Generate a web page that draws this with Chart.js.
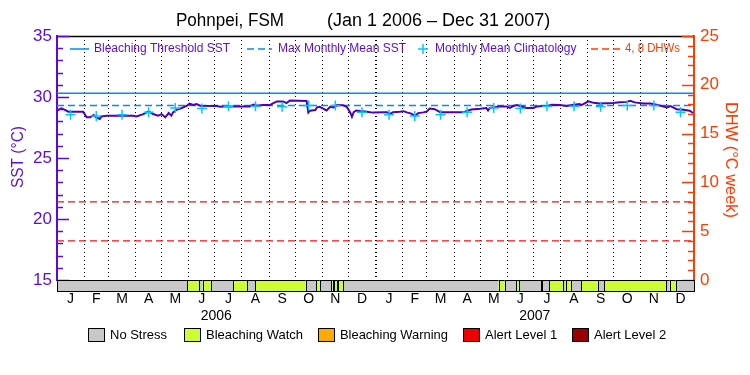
<!DOCTYPE html>
<html>
<head>
<meta charset="utf-8">
<script src="https://cdn.jsdelivr.net/npm/chart.js@4.4.0/dist/chart.umd.min.js"></script>
<style>
html, body { margin: 0; padding: 0; background: #fff; }
</style>
</head>
<body>
<canvas id="grafik" width="750" height="375"></canvas>
<script>
// days since Jan 1 2006
const monthLabels = ["J", "F", "M", "A", "M", "J", "J", "A", "S", "O", "N", "D"];
const monthStarts = [0, 31, 59, 90, 120, 151, 181, 212, 243, 273, 304, 334, 365,
    396, 424, 455, 485, 516, 546, 577, 608, 638, 669, 699, 730];
const yearLabels = ["2006", "2007"];

const sstTicks = [15, 20, 25, 30, 35];
const dhwTicks = [0, 5, 10, 15, 20, 25];

const threshold = 30.3;
const mmm = 29.3;
const dhwLevels = [4, 8];

const sstDays = [0, 5, 9, 13, 30, 34, 38, 42, 45, 49, 51, 57, 87, 91, 99, 105, 110, 116, 120, 124,
    128, 131, 133, 137, 143, 149, 152, 156, 160, 164, 183, 187, 191, 221, 225, 229, 236, 244, 248, 252,
    259, 263, 267, 286, 288, 290, 296, 298, 301, 305, 309, 313, 317, 321, 328, 332, 336, 338, 340, 343,
    347, 355, 362, 374, 378, 382, 385, 393, 397, 401, 406, 410, 414, 420, 424, 427, 433, 439, 466, 469,
    475, 485, 492, 494, 496, 500, 508, 515, 519, 523, 527, 531, 538, 546, 550, 557, 563, 567, 576, 584,
    592, 599, 601, 609, 615, 622, 637, 645, 653, 657, 662, 672, 680, 687, 693, 699, 703, 706, 710, 718,
    725, 729];
const sstValues = [28.88, 29.07, 28.95, 28.8, 28.8, 28.33, 28.33, 28.53, 28.33, 28.2, 28.41, 28.47, 28.47, 28.41, 28.6, 28.82, 28.6, 28.47, 28.6, 28.33,
    28.68, 28.47, 28.74, 28.95, 29.1, 29.29, 29.45, 29.34, 29.42, 29.29, 29.26, 29.2, 29.23, 29.23, 29.37, 29.29, 29.34, 29.34, 29.5, 29.64,
    29.64, 29.5, 29.72, 29.68, 28.72, 28.88, 28.93, 29.15, 29.2, 29.05, 28.9, 29.2, 29.15, 29.34, 29.32, 29.2, 28.74, 28.38, 28.76, 28.9,
    28.86, 28.8, 28.72, 28.76, 28.76, 28.62, 28.76, 28.8, 28.84, 28.74, 28.64, 28.45, 28.68, 28.74, 28.82, 29.05, 29.0, 28.76, 28.76, 28.84,
    28.98, 29.04, 29.1, 28.9, 29.1, 29.15, 29.23, 29.23, 29.1, 29.26, 29.34, 29.26, 29.1, 29.1, 29.23, 29.26, 29.29, 29.37, 29.34, 29.26,
    29.37, 29.42, 29.34, 29.64, 29.52, 29.47, 29.5, 29.56, 29.6, 29.69, 29.56, 29.47, 29.47, 29.37, 29.26, 29.15, 29.26, 29.15, 29.0, 28.95,
    28.88, 28.69];

const climMonthly = [28.55, 28.45, 28.55, 28.75, 29.1, 29.05, 29.25, 29.25, 29.2, 29.3, 29.3, 28.75];
const climValues = climMonthly.concat(climMonthly);

// bleaching stress periods: start day, end day, level (0 no stress, 1 watch)
const stressStart = [0, 149, 163, 167, 177, 202, 218, 227, 285, 297, 301, 314, 316, 318, 321, 322,
    328, 506, 513, 526, 530, 555, 556, 564, 580, 583, 589, 601, 620, 627, 698, 702, 709];
const stressEnd = [149, 163, 167, 177, 202, 218, 227, 285, 297, 301, 314, 316, 318, 321, 322, 328,
    506, 513, 526, 530, 555, 556, 564, 580, 583, 589, 601, 620, 627, 698, 702, 709, 730];
const stressLevel = [0, 1, 0, 1, 0, 1, 0, 1, 0, 1, 0, 1, 0, 1, 0, 1,
    0, 1, 0, 1, 0, 1, 0, 1, 0, 1, 0, 1, 0, 1, 0, 1, 0];
const stressNames = ["No Stress", "Bleaching Watch", "Bleaching Warning", "Alert Level 1", "Alert Level 2"];
const stressColors = ["#c8c8c8", "#ccff33", "#ffaa00", "#ee0000", "#990000"];

const purple = "#5a0cd6";
const orange = "#ff3c00";
const blue = "#0a8ce6";
const red = "#e81414";
const cyan = "#00c8ff";
const FONT = "'Liberation Sans', 'DejaVu Sans', sans-serif";

const climDays = climValues.map((v, i) => (monthStarts[i] + monthStarts[i + 1]) / 2);

function yazi(ctx, s, x, y, size, color, align, maxW) {
    ctx.font = size + "px " + FONT;
    ctx.fillStyle = color;
    ctx.textAlign = align || "left";
    ctx.textBaseline = "middle";
    if (maxW) ctx.fillText(s, x, y, maxW);
    else ctx.fillText(s, x, y);
}

function cizgi(ctx, x1, y1, x2, y2, color, w, dash) {
    ctx.beginPath();
    ctx.strokeStyle = color;
    ctx.lineWidth = w || 1;
    ctx.setLineDash(dash || []);
    ctx.moveTo(x1, y1);
    ctx.lineTo(x2, y2);
    ctx.stroke();
    ctx.setLineDash([]);
}

const dekor = {
    id: "dekor",
    afterDraw(chart) {
        const { ctx, chartArea: a, scales } = chart;
        const x = scales.x, y = scales.y, y2 = scales.y2;
        ctx.save();

        // top border
        cizgi(ctx, a.left, a.top + 0.5, a.right, a.top + 0.5, "#000", 1.5);

        // inward ticks
        for (let v = 15; v <= 35; v++) {
            const py = Math.round(y.getPixelForValue(v)) + 0.5;
            cizgi(ctx, a.left, py, a.left + (v % 5 ? 6 : 12), py, purple, 1.5);
        }
        for (let v = 0; v <= 25; v++) {
            const py = Math.round(y2.getPixelForValue(v)) + 0.5;
            cizgi(ctx, a.right, py, a.right - (v % 5 ? 6 : 12), py, orange, 1.5);
        }

        // tick labels
        sstTicks.forEach(v => yazi(ctx, String(v), a.left - 5, y.getPixelForValue(v), 17, purple, "right"));
        dhwTicks.forEach(v => yazi(ctx, String(v), a.right + 6, y2.getPixelForValue(v), 17, orange, "left"));

        // axis titles
        ctx.save();
        ctx.translate(18, 157);
        ctx.rotate(-Math.PI / 2);
        yazi(ctx, "SST (°C)", 0, 0, 17, purple, "center", 62);
        ctx.restore();
        ctx.save();
        ctx.translate(731, 160);
        ctx.rotate(Math.PI / 2);
        yazi(ctx, "DHW (°C week)", 0, 0, 17, orange, "center", 116);
        ctx.restore();

        // stress bar
        const barTop = a.bottom, barBot = a.bottom + 11;
        stressStart.forEach((s, i) => {
            const x1 = x.getPixelForValue(s), x2 = x.getPixelForValue(stressEnd[i]);
            ctx.fillStyle = stressColors[stressLevel[i]];
            ctx.fillRect(x1, barTop, x2 - x1, barBot - barTop);
            ctx.strokeStyle = "#000";
            ctx.lineWidth = 1;
            ctx.strokeRect(Math.round(x1) + 0.5, barTop + 0.5, Math.round(x2) - Math.round(x1), barBot - barTop);
        });

        // month and year labels
        for (let i = 0; i < 24; i++) {
            const mid = (monthStarts[i] + monthStarts[i + 1]) / 2;
            yazi(ctx, monthLabels[i % 12], x.getPixelForValue(mid), 299, 14, "#000", "center");
        }
        yearLabels.forEach((s, i) => {
            yazi(ctx, s, x.getPixelForValue((monthStarts[i * 12] + monthStarts[i * 12 + 12]) / 2), 316, 14, "#000", "center");
        });

        // legend in plot
        const ly = 49;
        cizgi(ctx, 70, ly, 89, ly, blue, 1.5);
        yazi(ctx, "Bleaching Threshold SST", 94, ly, 12, purple, "left", 142);
        cizgi(ctx, 247, ly, 272, ly, blue, 1.5, [7, 4]);
        yazi(ctx, "Max Monthly Mean SST", 278, ly, 12, purple, "left", 131);
        cizgi(ctx, 418, ly, 428, ly, cyan, 1.5);
        cizgi(ctx, 423, ly - 5, 423, ly + 5, cyan, 1.5);
        yazi(ctx, "Monthly Mean Climatology", 435, ly, 12, purple, "left", 147);
        cizgi(ctx, 591, ly, 620, ly, orange, 1.5, [7, 4]);
        yazi(ctx, "4, 8 DHWs", 625, ly, 12, orange, "left", 55);

        // stress legend
        const boxX = [88, 184, 318, 463, 572];
        const textW = [57, 98, 108, 74, 75];
        stressNames.forEach((s, i) => {
            ctx.fillStyle = stressColors[i];
            ctx.fillRect(boxX[i], 328, 16, 13);
            ctx.strokeStyle = "#000";
            ctx.lineWidth = 1;
            ctx.strokeRect(boxX[i] + 0.5, 328.5, 16, 13);
            yazi(ctx, s, boxX[i] + 22, 335, 13, "#000", "left", textW[i]);
        });

        // title
        yazi(ctx, "Pohnpei, FSM", 176, 21, 18, "#000", "left", 108);
        yazi(ctx, "(Jan 1 2006 – Dec 31 2007)", 327, 21, 18, "#000", "left", 254);

        ctx.restore();
    }
};

const ctx = document.getElementById("grafik").getContext("2d");
new Chart(ctx, {
    type: "line",
    data: {
        datasets: [
            {
                label: "Monthly Mean Climatology",
                data: climDays.map((d, i) => ({ x: d, y: climValues[i] })),
                showLine: false,
                pointStyle: "cross",
                pointRadius: 5,
                pointBorderColor: cyan,
                pointBorderWidth: 1.5,
                yAxisID: "y"
            },
            {
                label: "SST",
                data: sstDays.map((d, i) => ({ x: d, y: sstValues[i] })),
                borderColor: "#5000b4",
                borderWidth: 2,
                pointRadius: 0,
                tension: 0,
                yAxisID: "y"
            },
            {
                label: "Bleaching Threshold SST",
                data: [{ x: 0, y: threshold }, { x: 730, y: threshold }],
                borderColor: blue,
                borderWidth: 1.5,
                pointRadius: 0,
                yAxisID: "y"
            },
            {
                label: "Max Monthly Mean SST",
                data: [{ x: 0, y: mmm }, { x: 730, y: mmm }],
                borderColor: blue,
                borderWidth: 1.5,
                borderDash: [7, 4],
                pointRadius: 0,
                yAxisID: "y"
            },
            ...dhwLevels.map(v => ({
                label: v + " DHW",
                data: [{ x: 0, y: v }, { x: 730, y: v }],
                borderColor: red,
                borderWidth: 1.2,
                borderDash: [7, 4],
                pointRadius: 0,
                yAxisID: "y2"
            }))
        ]
    },
    options: {
        responsive: false,
        animation: false,
        events: [],
        layout: { padding: { left: 57, right: 56, top: 36, bottom: 95 } },
        plugins: { legend: { display: false }, tooltip: { enabled: false } },
        scales: {
            x: {
                type: "linear",
                min: 0,
                max: 730,
                afterBuildTicks: scale => {
                    scale.ticks = monthStarts.filter(d => d > 0 && d < 730).map(v => ({ value: v }));
                },
                afterFit: scale => { scale.height = 0; },
                ticks: { display: false },
                grid: {
                    drawTicks: false,
                    color: "#000",
                    lineWidth: c => (c.tick && c.tick.value === 365 ? 2 : 1)
                },
                border: { display: false, dash: [1, 3] }
            },
            y: {
                position: "left",
                min: 15,
                max: 35,
                afterFit: scale => { scale.width = 0; },
                ticks: { display: false },
                grid: { display: false },
                border: { color: purple, width: 2 }
            },
            y2: {
                position: "right",
                min: 0,
                max: 25,
                afterFit: scale => { scale.width = 0; },
                ticks: { display: false },
                grid: { display: false },
                border: { color: orange, width: 2 }
            }
        }
    },
    plugins: [dekor]
});
</script>
</body>
</html>
